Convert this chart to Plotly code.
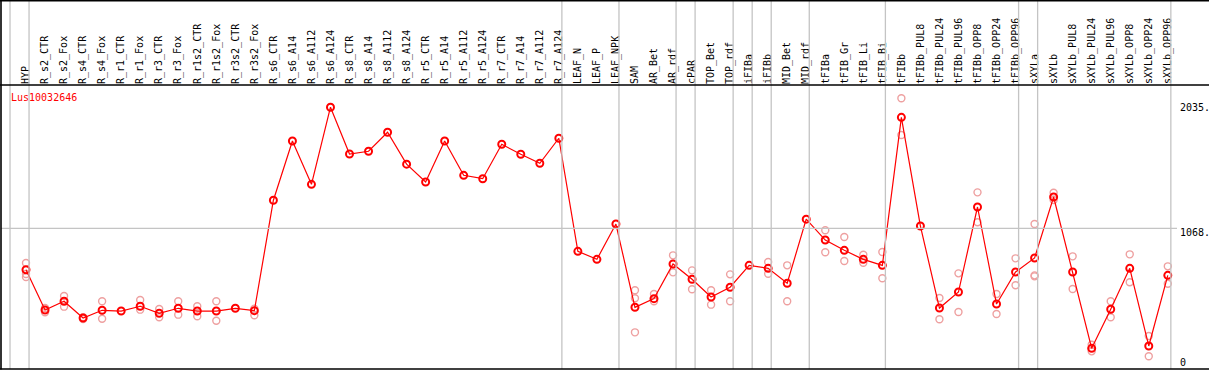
import plotly.graph_objects as go

W, H = 1209, 370

categories = [
    "HYP", "R_s2_CTR", "R_s2_Fox", "R_s4_CTR", "R_s4_Fox", "R_r1_CTR", "R_r1_Fox",
    "R_r3_CTR", "R_r3_Fox", "R_r1s2_CTR", "R_r1s2_Fox", "R_r3s2_CTR", "R_r3s2_Fox",
    "R_s6_CTR", "R_s6_A14", "R_s6_A112", "R_s6_A124", "R_s8_CTR", "R_s8_A14",
    "R_s8_A112", "R_s8_A124", "R_r5_CTR", "R_r5_A14", "R_r5_A112", "R_r5_A124",
    "R_r7_CTR", "R_r7_A14", "R_r7_A112", "R_r7_A124", "LEAF_N", "LEAF_P", "LEAF_NPK",
    "SAM", "AR_Bet", "AR_rdf", "cPAR", "TOP_Bet", "TOP_rdf", "iFIBa", "iFIBb",
    "MID_Bet", "MID_rdf", "tFIBa", "tFIB_Gr", "tFIB_Li", "tFIB_Bi", "tFIBb",
    "tFIBb_PUL8", "tFIBb_PUL24", "tFIBb_PUL96", "tFIBb_OPP8", "tFIBb_OPP24",
    "tFIBb_OPP96", "sXYLa", "sXYLb", "sXYLb_PUL8", "sXYLb_PUL24", "sXYLb_PUL96",
    "sXYLb_OPP8", "sXYLb_OPP24", "sXYLb_OPP96",
]

mean_values = [
    737, 415, 485, 351, 413, 407, 445, 389, 429, 407, 407, 429, 410,
    1292, 1765, 1419, 2035, 1661, 1683, 1835, 1580, 1438, 1765, 1491, 1464,
    1739, 1659, 1587, 1787, 884, 820, 1102,
    437, 506, 783, 661, 519, 597, 772, 748, 629, 1141,
    974, 892, 820, 772, 1954, 1086, 431, 559, 1238, 463, 719,
    831, 1318, 719, 109, 421, 748, 128, 692,
]

rep1 = [
    791, 431, 527, 343, 485, None, 495, 423, 485, 445, 485, None, 426,
    None, None, None, None, None, None, None, None, None, None, None, None,
    None, None, None, None, None, None, None,
    573, 543, 852, 732, 573, 700, None, 799, 772, None,
    1052, 998, 857, 879, 2106, None, 511, 708, 1355, 543, 828,
    1102, 1352, 844, 138, 485, 860, 208, 764,
]
rep2 = [
    703, 397, 442, 358, 346, None, 418, 357, 378, 365, 330, None, 373,
    None, None, None, None, None, None, None, None, None, None, None, None,
    None, None, None, None, None, None, None,
    509, 485, 716, 581, 458, 485, None, 705, 485, None,
    876, 807, 793, 669, 1813, None, 341, 399, 1116, 383, 613,
    692, 1294, 583, 85, 357, 637, 46, 625,
]
rep3 = [
    679, None, None, None, None, None, None, None, None, None, None, None, None,
    None, None, None, None, None, None, None, None, None, None, None, None,
    None, None, None, None, None, None, None,
    237, None, None, None, None, None, None, None, None, None,
    None, None, None, None, None, None, None, None, None, None, None,
    684, None, None, None, None, None, None, None,
]

boundary_after = ["HYP", "R_r7_A124", "LEAF_NPK", "AR_rdf", "cPAR", "TOP_rdf",
                  "iFIBa", "iFIBb", "MID_rdf", "tFIB_Bi", "tFIBb_OPP96", "sXYLa",
                  "sXYLb_OPP96"]

gene_title = "Lus10032646"
axis_labels = [(2035, "2035."), (1068, "1068."), (0, "0")]
grid_value = 1068

FONT = "DejaVu Sans Mono"
RED = "#ff0000"
PINK = "#eea0a0"
GRAY = "#c4c4c4"


def px(x):
    return x / W


def py(y):
    return 1 - y / H


fig = go.Figure()

for rep in (rep1, rep2, rep3):
    fig.add_trace(go.Scatter(
        x=categories, y=rep, mode="markers",
        marker=dict(symbol="circle-open", size=7, color=PINK, line=dict(width=1.4, color=PINK)),
        hoverinfo="skip", showlegend=False,
    ))

fig.add_trace(go.Scatter(
    x=categories, y=mean_values, mode="lines+markers",
    line=dict(color=RED, width=1.2),
    marker=dict(symbol="circle-open", size=7, color=RED, line=dict(width=2, color=RED)),
    showlegend=False,
))

shapes = []
idx_positions = [-0.84] + [categories.index(c) + 0.16 for c in boundary_after]
for xv in idx_positions:
    shapes.append(dict(type="line", xref="x", yref="paper", x0=xv, x1=xv,
                       y0=py(369), y1=py(0), line=dict(color=GRAY, width=1.3)))
shapes.append(dict(type="line", xref="paper", yref="y", x0=px(1), x1=px(1177),
                   y0=grid_value, y1=grid_value, line=dict(color=GRAY, width=1.3)))
for yy in (0.7, 85, 369):
    shapes.append(dict(type="line", xref="paper", yref="paper", x0=0, x1=1,
                       y0=py(yy), y1=py(yy), line=dict(color="black", width=1.6)))
shapes.append(dict(type="line", xref="paper", yref="paper", x0=px(1), x1=px(1),
                   y0=py(0), y1=py(369.5), line=dict(color="black", width=1.6)))

annotations = [dict(text=gene_title, xref="paper", yref="paper", x=px(9), y=py(97.5),
                    xanchor="left", yanchor="middle", showarrow=False,
                    font=dict(family=FONT, size=10, color=RED))]
for val, txt in axis_labels:
    annotations.append(dict(text=txt, xref="paper", yref="y", x=px(1178), y=val,
                            xanchor="left", yanchor="middle", showarrow=False,
                            yshift=-4 if val == grid_value else 0,
                            font=dict(family=FONT, size=10, color="black")))

k0 = -26 / 19.03
k1 = (W - 26) / 19.03
y_top = (362 - 85) * 7.987
y_bot = (362 - 369) * 7.987

fig.update_layout(
    width=W, height=H,
    margin=dict(l=0, r=0, t=0, b=0),
    paper_bgcolor="white", plot_bgcolor="white",
    shapes=shapes, annotations=annotations,
    xaxis=dict(type="category", categoryorder="array", categoryarray=categories,
               range=[k0, k1], domain=[0, 1], side="top", tickangle=-90,
               showgrid=False, zeroline=False, showline=False, ticks="",
               tickfont=dict(family=FONT, size=10, color="black"),
               fixedrange=True),
    yaxis=dict(range=[y_bot, y_top], domain=[py(369), py(85)], visible=False,
               showgrid=False, zeroline=False, fixedrange=True),
    font=dict(family=FONT),
)

fig.write_html(
    "out.html",
    config={"displayModeBar": False},
    post_script="document.body.style.margin='0';document.body.style.padding='0';"
                "document.body.style.overflow='hidden';",
)
